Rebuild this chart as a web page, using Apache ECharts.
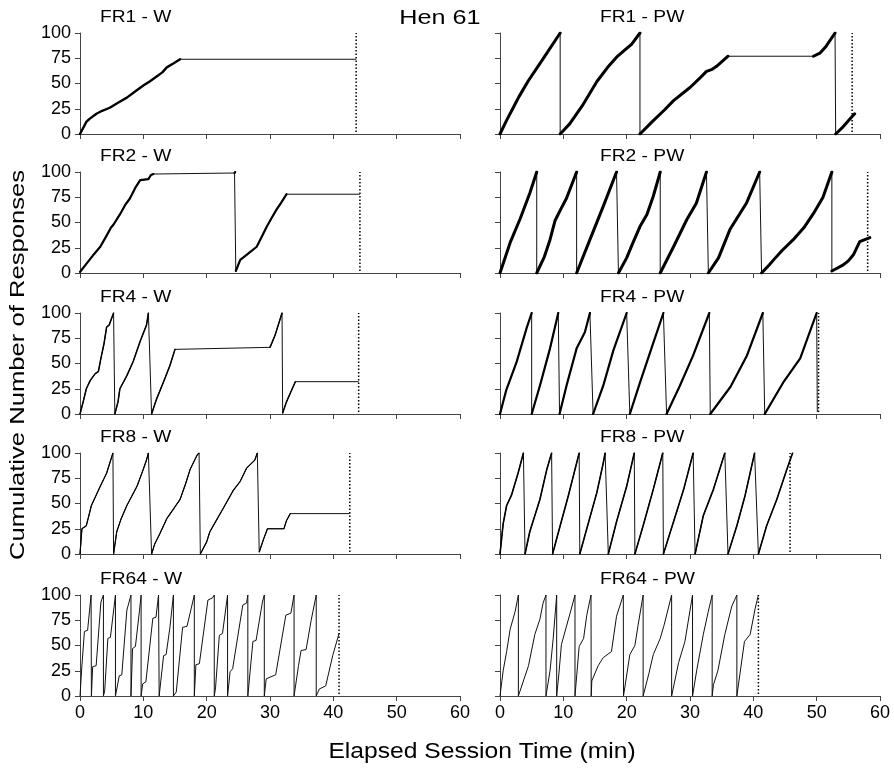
<!DOCTYPE html>
<html><head><meta charset="utf-8">
<script src="https://cdn.jsdelivr.net/npm/echarts@6/dist/echarts.min.js"></script>
<style>html,body{margin:0;padding:0;background:#fff}#c{width:894px;height:773px}</style>
</head><body><div id="c"></div>
<script>
// ---------- data ----------
const xTicks = [0, 10, 20, 30, 40, 50, 60];
const yTicks = [0, 25, 50, 75, 100];
const mainTitle = 'Hen 61';
const xTitle = 'Elapsed Session Time (min)';
const yTitle = 'Cumulative Number of Responses';
const panelTitles = ['FR1 - W', 'FR1 - PW', 'FR2 - W', 'FR2 - PW', 'FR4 - W', 'FR4 - PW', 'FR8 - W', 'FR8 - PW', 'FR64 - W', 'FR64 - PW'];
// session end (dotted line), minutes
const endTimes = [43.6, 55.6, 44.2, 58.05, 44.0, 50.3, 42.6, 45.8, 40.9, 40.8];

// each panel: list of runs; a run is a list of [minute, cumulative responses]
const fr1W = [
  [[0,0],[0.5,6],[1,12],[1.5,15],[2.6,20],[3.5,23],[4.7,26],[6,31],[7.4,36],[8.7,42],[10,48],[11,52],[12.1,57],[13,61],[13.7,66],[14.8,70],[15.8,74],[43.6,74]]
];
const fr1PW = [
  [[0,0],[1,13],[2,25],[3,37],[4.5,53],[6,67],[7.5,81],[9.5,100]],
  [[9.5,0],[11,10],[13,28],[15.3,52],[17,66],[18.4,76],[19.5,82],[20.8,89],[22.1,100]],
  [[22.1,0],[24,12],[26,24],[27.4,33],[30,46],[31.5,55],[32.6,62],[33.5,64],[34.2,67],[36,77],[49.5,77],[50.5,80],[51.5,87],[52.9,100]],
  [[53,0],[54,6],[55,13],[56,20]]
];
const fr2W = [
  [[0,1],[1,9],[2,17],[3.2,26],[4.2,37],[4.9,45],[5.3,48],[6.3,58],[7.2,68],[7.9,74],[8.7,84],[9.5,92],[10.8,93],[11.2,97],[11.6,98],[24.4,99],[24.5,100]],
  [[24.6,2],[25.3,13],[26.5,19],[27.9,26],[28.7,36],[29.5,46],[30.3,55],[31.05,63],[31.8,70],[32.6,78],[44.2,78]]
];
const fr2PW = [
  [[0,0],[1.6,30],[3.2,54],[4.7,79],[5.8,100]],
  [[5.8,0],[7,16],[7.9,33],[8.7,52],[9.5,62],[10.5,74],[12.1,100]],
  [[12.1,0],[14.2,33],[16.3,66],[18.4,100]],
  [[18.7,0],[20,15],[21,30],[22.1,46],[23.2,58],[24.2,76],[25.3,100]],
  [[25.3,0],[27.4,26],[29.5,53],[31,69],[32.6,100]],
  [[32.9,0],[34.5,15],[36.3,43],[38.9,69],[41,100]],
  [[41.3,0],[42.5,8],[43.2,13],[44.5,22],[46.3,33],[48,45],[49.5,59],[51,75],[52.4,100]],
  [[52.4,2],[53,4],[54.2,8],[55,12],[55.8,18],[56.8,31],[57.6,33],[58.4,35]]
];
const fr4W = [
  [[0,0],[0.5,12],[1,25],[1.6,33],[2.4,40],[2.9,42],[3.3,55],[3.8,70],[4.2,86],[4.6,88],[5.3,100]],
  [[5.5,0],[6,12],[6.3,25],[7.4,38],[8.4,52],[9.5,72],[10.5,88],[10.8,100]],
  [[11.3,0],[12.1,15],[13.2,32],[14.2,48],[15,64],[30,66],[30.8,78],[31.4,90],[31.9,100]],
  [[32,1],[32.6,12],[33.3,22],[34,32],[44,32]]
];
const fr4PW = [
  [[0,0],[1,24],[2.6,51],[4.2,85],[5.0,100]],
  [[5.0,0],[6.3,28],[7.9,65],[9.2,100]],
  [[9.4,0],[10.5,28],[12.1,65],[13.4,81],[14.2,100]],
  [[14.7,0],[16.3,28],[17.9,63],[20,100]],
  [[20.5,0],[22.1,31],[23.7,61],[25.8,100]],
  [[26.3,0],[28.4,28],[30.5,58],[33.05,100]],
  [[33.2,0],[36.4,27],[39,58],[41.5,100]],
  [[41.8,0],[44.7,31],[47.4,55],[50,100]],
  [[50.1,2]]
];
const fr8W = [
  [[0,0],[0.3,25],[1,28],[1.8,48],[3.2,67],[4.2,80],[5.2,100]],
  [[5.3,0],[5.8,22],[6.5,35],[7.4,48],[9,67],[10,84],[10.5,93],[10.8,100]],
  [[11.3,0],[11.8,10],[12.6,20],[13.7,35],[14.8,45],[15.8,54],[16.7,70],[17.4,84],[18.5,98],[18.8,100]],
  [[19,0],[20,12],[20.5,22],[21.5,33],[22.6,45],[24.2,63],[25.3,72],[26.3,85],[27.6,93],[28,100]],
  [[28.3,2],[29,15],[29.6,25],[32.2,25],[32.6,33],[33.2,40],[42.6,40]]
];
const fr8PW = [
  [[0,0],[0.5,30],[1.05,48],[1.8,58],[2.85,80],[3.7,100]],
  [[3.95,0],[4.7,22],[6.3,54],[7.4,84],[8.15,100]],
  [[8.3,0],[9.5,28],[10.8,58],[12.5,100]],
  [[12.6,0],[13.7,25],[15.3,61],[16.3,90],[16.6,100]],
  [[17.1,0],[18.4,32],[20,67],[21.2,100]],
  [[21.3,0],[22.6,28],[24.2,64],[25.7,100]],
  [[25.8,0],[27.4,32],[29,64],[30.5,100]],
  [[30.8,0],[32.1,38],[33.7,64],[35.5,100]],
  [[36,0],[37.4,28],[38.7,58],[40.2,100]],
  [[40.8,0],[42.1,28],[43.7,54],[45.3,84],[46.2,100]]
];
const fr64W = [
  [[0,0],[0.3,30],[0.7,64],[1.2,65],[1.75,100]],
  [[1.8,0],[2.0,29],[2.55,30],[3.3,93],[3.55,94],[3.7,100]],
  [[3.7,0],[3.9,5],[4.4,57],[4.8,58],[5.6,100]],
  [[5.6,0],[6.2,20],[6.6,21],[7.4,85],[7.7,86],[8.05,100]],
  [[8.05,0],[8.3,47],[8.75,49],[9.4,85],[9.65,100]],
  [[9.65,0],[9.9,12],[10.4,14],[11.5,77],[12.0,78],[12.4,100]],
  [[12.5,0],[13.2,40],[13.6,41],[14.2,68],[14.75,100]],
  [[14.75,0],[15.2,4],[16.2,68],[16.9,69],[18.05,100]],
  [[18.05,0],[18.3,31],[18.85,32],[20.2,95],[20.9,97],[21.2,100]],
  [[21.2,0],[21.4,8],[22.0,60],[22.5,62],[23.3,100]],
  [[23.3,0],[23.7,24],[24.1,27],[25.7,90],[26.3,92],[26.5,100]],
  [[26.5,0],[27.3,54],[27.8,55],[28.8,93],[29.1,100]],
  [[29.1,0],[29.4,17],[30.9,21],[32.5,80],[33.3,82],[33.8,100]],
  [[33.8,0],[34.5,30],[34.9,45],[35.7,46],[36.5,75],[37.3,100]],
  [[37.3,0],[37.8,7],[38.8,10],[39.9,40],[40.9,62]]
];
const fr64PW = [
  [[0,0],[0.5,25],[1.05,44],[1.6,66],[2.4,84],[2.9,100]],
  [[2.9,0],[4.5,30],[5.5,61],[6.3,76],[6.8,92],[7.26,100]],
  [[7.26,0],[7.9,25],[8.4,57],[8.95,100]],
  [[8.95,0],[9.3,22],[9.7,51],[11.2,85],[11.84,100]],
  [[11.84,0],[12.5,49],[13.2,57],[13.7,80],[14.37,100]],
  [[14.4,0],[14.5,15],[15.5,30],[16.3,38],[17.6,44],[18.4,79],[19.47,100]],
  [[19.5,0],[20.5,41],[21.3,50],[21.8,70],[22.6,100]],
  [[22.6,0],[23.5,22],[24.2,41],[25.3,57],[25.9,70],[27.1,100]],
  [[27.1,0],[28.2,33],[29.2,54],[30.4,100]],
  [[30.4,0],[31.05,25],[32.1,61],[32.9,84],[33.5,100]],
  [[33.5,0],[33.7,11],[34.4,25],[35.5,61],[36.6,89],[37.4,100]],
  [[37.4,0],[38.6,54],[39.5,61],[40.3,87],[40.8,100]]
];
const panelRuns = [fr1W, fr1PW, fr2W, fr2PW, fr4W, fr4PW, fr8W, fr8PW, fr64W, fr64PW];

// ---------- style / layout ----------
const curveWidth = [2.4, 3, 2.2, 3, 1.5, 2.2, 1.2, 1.6, 1, 1];
const gridLeft = [80, 500];
const gridTop = [33, 172, 313, 453, 595];
const gridW = 380, gridH = 101;
const axisColor = '#444';
const FONT = '"Liberation Sans", Arial, sans-serif';
const PAUSE = 6; // minutes without responding: drawn thin

const grids = [], xAxes = [], yAxes = [], series = [], graphics = [];
panelRuns.forEach((runs, i) => {
  const row = Math.floor(i / 2), col = i % 2;
  grids.push({left: gridLeft[col], top: gridTop[row], width: gridW, height: gridH, containLabel: false});
  xAxes.push({
    gridIndex: i, type: 'value', min: xTicks[0], max: xTicks[xTicks.length - 1], interval: xTicks[1] - xTicks[0],
    axisLine: {show: true, onZero: false, lineStyle: {color: axisColor, width: 1}},
    axisTick: {show: true, inside: false, length: 5, lineStyle: {color: axisColor}},
    axisLabel: {show: row === 4, color: '#000', fontSize: 18, margin: 8,
      fontFamily: '"Liberation Sans Narrow", "Arial Narrow", "Liberation Sans", sans-serif'},
    splitLine: {show: false}
  });
  yAxes.push({
    gridIndex: i, type: 'value', min: yTicks[0], max: yTicks[yTicks.length - 1], interval: yTicks[1] - yTicks[0],
    axisLine: {show: true, lineStyle: {color: axisColor, width: 1}},
    axisTick: {show: true, inside: false, length: 5, lineStyle: {color: axisColor}},
    axisLabel: {show: col === 0, color: '#000', fontSize: 18, margin: 9, fontFamily: FONT},
    splitLine: {show: false}
  });
  // thin continuous record (includes reset drops and pauses)
  const all = [];
  runs.forEach(r => r.forEach(p => all.push(p)));
  series.push({type: 'line', xAxisIndex: i, yAxisIndex: i, data: all, symbol: 'none', silent: true,
    lineStyle: {color: '#111', width: 1}, z: 2});
  // thicker overlay where responding is dense
  const w = curveWidth[i];
  if (w > 1.1) {
    runs.forEach(r => {
      let chunk = [r[0]];
      const flush = () => { if (chunk.length > 1) series.push({type: 'line', xAxisIndex: i, yAxisIndex: i, data: chunk,
        symbol: 'none', silent: true, lineStyle: {color: '#000', width: w, cap: 'round', join: 'round'}, z: 3}); };
      for (let k = 1; k < r.length; k++) {
        if (r[k][0] - r[k - 1][0] > PAUSE) { flush(); chunk = [r[k]]; } else chunk.push(r[k]);
      }
      flush();
    });
  }
  // session end marker
  series.push({type: 'line', xAxisIndex: i, yAxisIndex: i, data: [[endTimes[i], 2], [endTimes[i], 100]], symbol: 'none',
    silent: true, lineStyle: {color: '#000', width: 1.5, type: [1.5, 2]}, z: 4});
  // panel title
  graphics.push({type: 'text', x: col === 0 ? 100 : 600, y: gridTop[row] - 15, scaleX: 1.2,
    style: {text: panelTitles[i], font: '16px ' + FONT, fill: '#000', textAlign: 'left', textVerticalAlign: 'middle'}});
});

graphics.push({type: 'text', x: 440, y: 18, scaleX: 1.2,
  style: {text: mainTitle, font: '21px ' + FONT, fill: '#000', textAlign: 'center', textVerticalAlign: 'middle'}});
graphics.push({type: 'text', x: 482, y: 752, scaleX: 1.12,
  style: {text: xTitle, font: '22px ' + FONT, fill: '#000', textAlign: 'center', textVerticalAlign: 'middle'}});
graphics.push({type: 'text', x: 18, y: 365, rotation: Math.PI / 2, scaleX: 1.22,
  style: {text: yTitle, font: '21px ' + FONT, fill: '#000', textAlign: 'center', textVerticalAlign: 'middle'}});

const chart = echarts.init(document.getElementById('c'), null, {renderer: 'canvas'});
chart.setOption({
  animation: false,
  backgroundColor: '#fff',
  grid: grids, xAxis: xAxes, yAxis: yAxes, series: series,
  graphic: {elements: graphics}
});
</script></body></html>
